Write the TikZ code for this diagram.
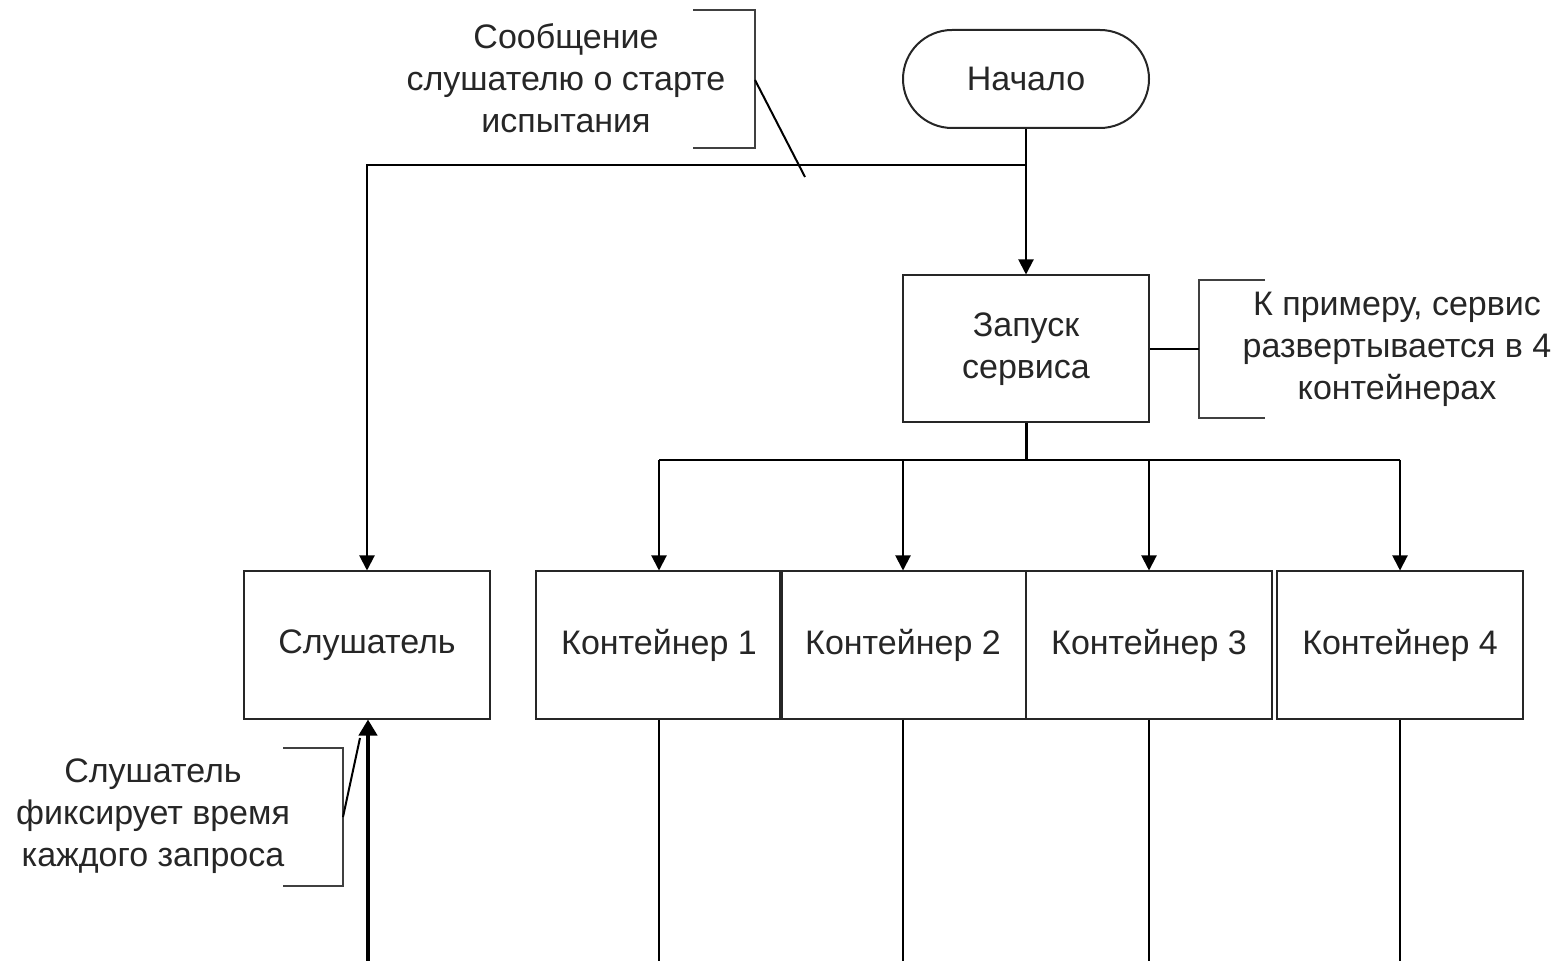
\documentclass[tikz,border=0pt]{standalone}
\usepackage{fontspec}
\setmainfont{Liberation Sans}
\usetikzlibrary{arrows.meta}

\begin{document}
\begin{tikzpicture}[
    x=0.5pt, y=-0.5pt,
    every node/.style={font=\fontsize{17}{21}\selectfont, text=black!85},
    block/.style={draw=black!85, line width=1pt, minimum width=123pt,
        minimum height=73.5pt, inner sep=0pt, align=center},
    terminal/.style={block, minimum height=49pt, rounded corners=24.5pt},
    note/.style={align=center, inner sep=0pt},
    bracket/.style={draw=black!75, line width=1pt},
    line/.style={draw=black, line width=1pt},
    link/.style={line, -{Triangle[length=7.5pt,width=7.5pt]}},
    feed/.style={draw=black, line width=2pt, -{Triangle[length=8pt,width=9pt,sep=0pt]}}
]
    \useasboundingbox (0,0) rectangle (1568,961);

    \node[terminal] (start) at (1026,79) {Начало};
    \node[block] (launch) at (1026,349) {Запуск\\сервиса};
    \node[block] (listener) at (367,645) {Слушатель};
    \node[block] (c1) at (659,645) {Контейнер 1};
    \node[block] (c2) at (903,645) {Контейнер 2};
    \node[block] (c3) at (1149,645) {Контейнер 3};
    \node[block] (c4) at (1400,645) {Контейнер 4};

    \node[note] (msg) at (566,78) {Сообщение\\слушателю о старте\\испытания};
    \node[note] (deploy) at (1397,349) {К примеру, сервис\\развертывается в 4\\контейнерах};
    \node[note] (timing) at (153,816) {Слушатель\\фиксирует время\\каждого запроса};

    \coordinate (split) at (1026,165);
    \coordinate (fork) at (1026,460);
    \coordinate (bottom) at (0,961);
    \coordinate (msgpin) at (805,177);
    \coordinate (deploypin) at (1199,349);
    \coordinate (timingpin) at (360,738);
    \coordinate (requests) at (368,961);

    % start -> launch, branch to listener
    \draw[line] (start.south) -- (split);
    \draw[link] (split) -- (launch.north);
    \draw[link] (split) -| (listener.north);

    % launch -> containers
    \draw[line, line width=1.5pt] (launch.south) -- (fork);
    \draw[line] (fork -| c1) -- (fork -| c4);
    \foreach \c in {c1,c2,c3,c4} {
        \draw[link] (fork -| \c) -- (\c.north);
        \draw[line] (\c.south) -- (\c.south |- bottom);
    }

    % requests to listener
    \draw[feed] (requests) -- (requests |- listener.south);

    % notes
    \draw[bracket] (693,10) -| (755,148) -- (693,148);
    \draw[line] (755,80) -- (msgpin);
    \draw[bracket] (1265,280) -| (1199,418) -- (1265,418);
    \draw[line] (launch.east) -- (deploypin);
    \draw[bracket] (283,748) -| (343,886) -- (283,886);
    \draw[line] (343,817) -- (timingpin);
\end{tikzpicture}
\end{document}
